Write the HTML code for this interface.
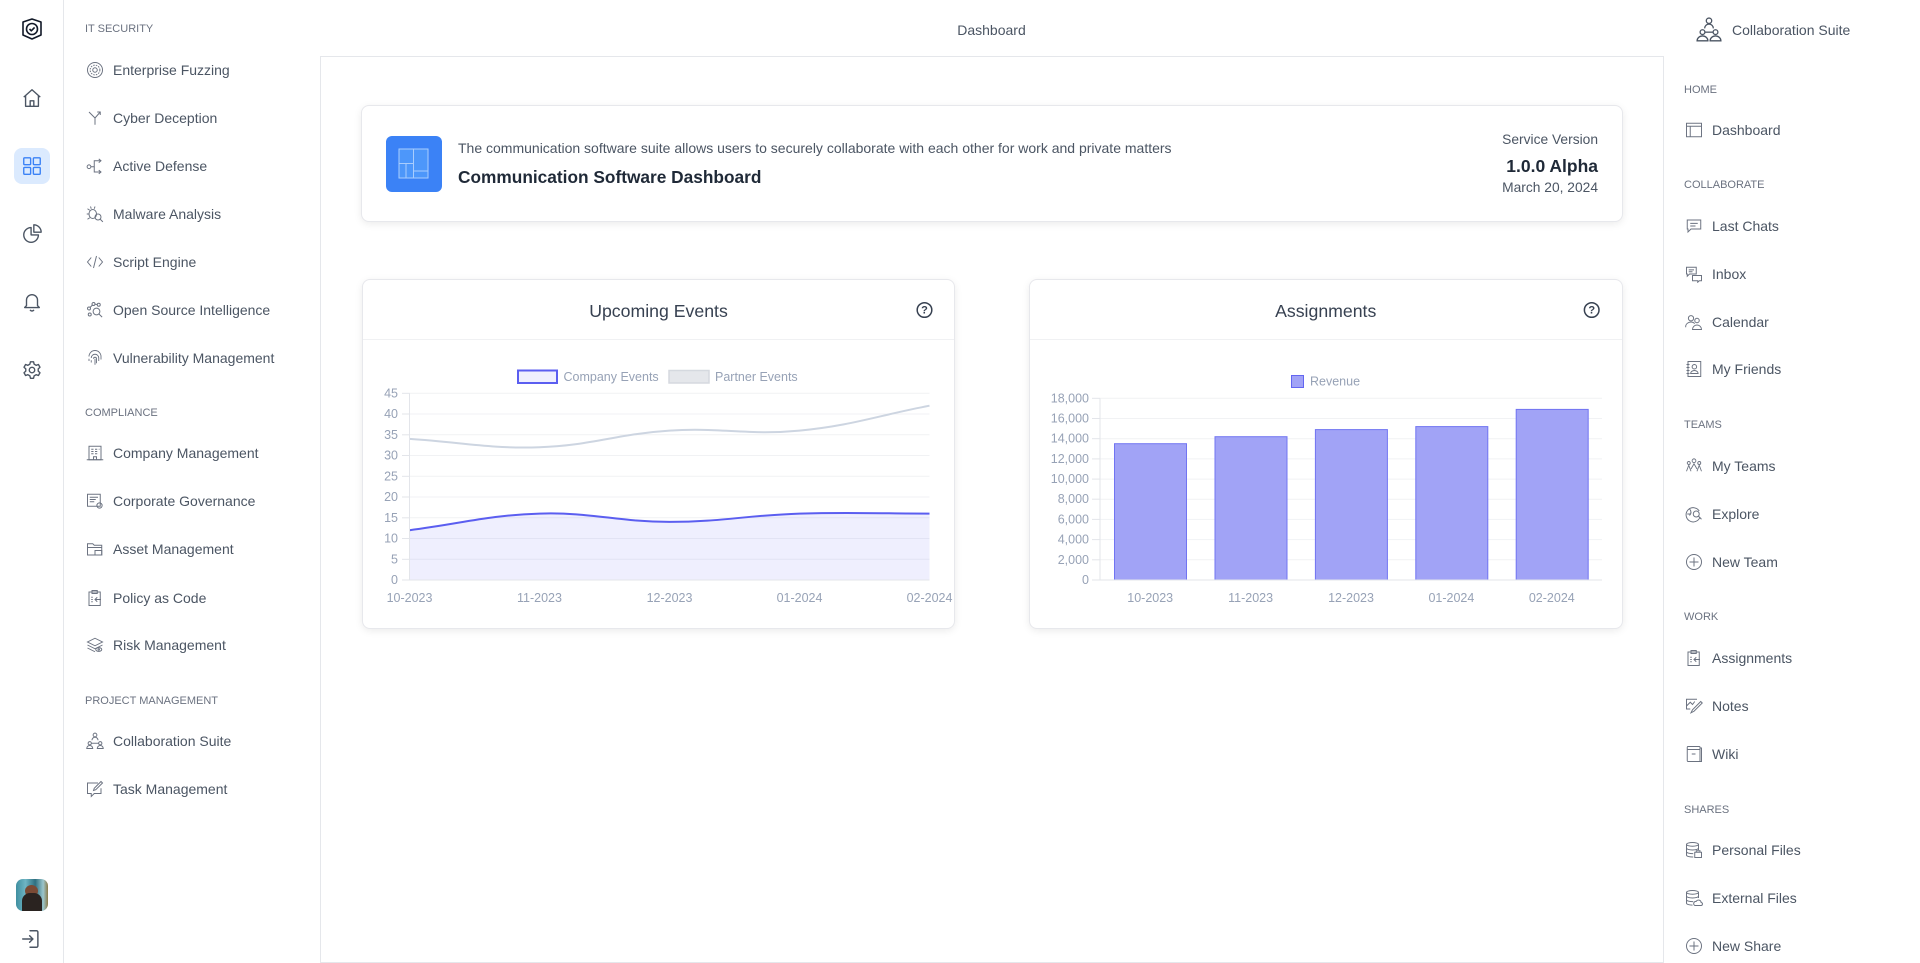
<!DOCTYPE html>
<html><head><meta charset="utf-8">
<style>
*{margin:0;padding:0;box-sizing:border-box}
html,body{width:1920px;height:963px;overflow:hidden;background:#fff;font-family:"Liberation Sans",sans-serif;color:#4b5563}
.a{position:absolute}
.h{position:absolute;font-size:11px;color:#6b7280;line-height:14px;height:14px;white-space:nowrap}
.it{position:absolute;font-size:14px;line-height:20px;height:20px;color:#4b5563;white-space:nowrap}
.ic{position:absolute;width:18px;height:18px}
.ic svg{width:18px;height:18px;display:block}
.card{position:absolute;background:#fff;border:1px solid #e7e8ec;border-radius:8px;box-shadow:0 2px 8px rgba(0,0,0,0.08)}
</style></head>
<body>

<!-- icon rail -->
<div class="a" style="left:0;top:0;width:64px;height:963px;border-right:1px solid #e5e7eb"></div>
<svg class="a" style="left:20px;top:17px" width="24" height="24" viewBox="0 0 24 24" fill="none" stroke="#111827" stroke-width="1.6" stroke-linejoin="round"><path d="M3 5 L12 2 L21 5 L21 18 L12 22 L3 18 Z"/><circle cx="12" cy="12" r="5.5"/><path d="M9.5 12 L11.3 13.8 L14.6 10.4"/></svg>
<svg class="a" style="left:21px;top:87px" width="22" height="22" viewBox="0 0 24 24" fill="none" stroke="#4b5563" stroke-width="1.5" stroke-linejoin="round"><path d="M3 11 L12 3 L21 11"/><path d="M5 9.5 V21 H19 V9.5"/><path d="M10 21 V15 H14 V21"/></svg>
<div class="a" style="left:14px;top:148px;width:36px;height:36px;border-radius:8px;background:#dbeafe"></div>
<svg class="a" style="left:21px;top:155px" width="22" height="22" viewBox="0 0 24 24" fill="none" stroke="#3b82f6" stroke-width="1.5"><rect x="3" y="3" width="7.5" height="7.5" rx="1"/><rect x="13.5" y="3" width="7.5" height="7.5" rx="1"/><rect x="3" y="13.5" width="7.5" height="7.5" rx="1"/><rect x="13.5" y="13.5" width="7.5" height="7.5" rx="1"/></svg>
<svg class="a" style="left:21px;top:223px" width="22" height="22" viewBox="0 0 24 24" fill="none" stroke="#4b5563" stroke-width="1.5" stroke-linejoin="round"><path d="M11 5 A8 8 0 1 0 19 13 H11 Z"/><path d="M14 2 A8 8 0 0 1 22 10 H14 Z"/></svg>
<svg class="a" style="left:21px;top:291px" width="22" height="22" viewBox="0 0 24 24" fill="none" stroke="#4b5563" stroke-width="1.5" stroke-linejoin="round"><path d="M6 16 V10 A6 6 0 0 1 18 10 V16 L20 18 H4 Z"/><path d="M10 20.5 A2.2 2.2 0 0 0 14 20.5"/></svg>
<svg class="a" style="left:21px;top:359px" width="22" height="22" viewBox="0 0 24 24" fill="none" stroke="#4b5563" stroke-width="1.5" stroke-linejoin="round"><path d="M10.3 3 H13.7 L14.3 5.6 L16.5 6.9 L19 6 L20.7 9 L18.8 10.8 V13.2 L20.7 15 L19 18 L16.5 17.1 L14.3 18.4 L13.7 21 H10.3 L9.7 18.4 L7.5 17.1 L5 18 L3.3 15 L5.2 13.2 V10.8 L3.3 9 L5 6 L7.5 6.9 L9.7 5.6 Z"/><circle cx="12" cy="12" r="3"/></svg>
<div class="a" style="left:16px;top:879px;width:32px;height:32px;border-radius:7px;overflow:hidden;background:linear-gradient(90deg,#3f8fa0 0%,#6fb5c4 30%,#2d6f80 60%,#9bc6cc 85%,#8a7b4a 100%)">
  <div class="a" style="left:9px;top:6px;width:13px;height:12px;border-radius:50%;background:#7a4a35"></div>
  <div class="a" style="left:6px;top:14px;width:20px;height:20px;border-radius:8px 8px 0 0;background:#2a2320"></div>
</div>
<svg class="a" style="left:20px;top:928px" width="22" height="22" viewBox="0 0 24 24" fill="none" stroke="#4b5563" stroke-width="1.6" stroke-linejoin="round" stroke-linecap="round"><path d="M11 3 H18 A1.5 1.5 0 0 1 19.5 4.5 V19.5 A1.5 1.5 0 0 1 18 21 H11"/><path d="M3 12 H14"/><path d="M10.5 8.5 L14 12 L10.5 15.5"/></svg>

<!-- left sidebar -->
<div class="h" style="left:85px;top:22px">IT SECURITY</div>
<div class="ic" style="left:86px;top:61px"><svg viewBox="0 0 24 24" fill="none" stroke="#6b7280" stroke-width="1.3"><circle cx="12" cy="12" r="10"/><circle cx="12" cy="12" r="6.5" stroke-dasharray="2 1.5"/><circle cx="12" cy="12" r="3"/></svg></div>
<div class="it" style="left:113px;top:60px">Enterprise Fuzzing</div>
<div class="ic" style="left:86px;top:109px"><svg viewBox="0 0 24 24" fill="none" stroke="#6b7280" stroke-width="1.3"><path d="M4 4 L12 12 V21"/><path d="M12 12 L19 4"/><path d="M15 4 H19 V8"/></svg></div>
<div class="it" style="left:113px;top:108px">Cyber Deception</div>
<div class="ic" style="left:86px;top:157px"><svg viewBox="0 0 24 24" fill="none" stroke="#6b7280" stroke-width="1.3"><circle cx="4" cy="13" r="2.5"/><path d="M6.5 13 H11 V5 H20"/><path d="M11 13 V20 H20"/><path d="M17 2.5 L20 5 L17 7.5"/><path d="M17 17.5 L20 20 L17 22.5"/></svg></div>
<div class="it" style="left:113px;top:156px">Active Defense</div>
<div class="ic" style="left:86px;top:205px"><svg viewBox="0 0 24 24" fill="none" stroke="#6b7280" stroke-width="1.3"><ellipse cx="9" cy="12" rx="5" ry="6"/><path d="M4 12 H1 M5 7 L2 5 M5 17 L2 19 M7 5 L6 2 M11 5 L12 2"/><circle cx="16" cy="16" r="4"/><path d="M19 19 L22.5 22.5"/></svg></div>
<div class="it" style="left:113px;top:204px">Malware Analysis</div>
<div class="ic" style="left:86px;top:253px"><svg viewBox="0 0 24 24" fill="none" stroke="#6b7280" stroke-width="1.3"><path d="M7 6 L2 12 L7 18"/><path d="M17 6 L22 12 L17 18"/><path d="M14 4 L10 20"/></svg></div>
<div class="it" style="left:113px;top:252px">Script Engine</div>
<div class="ic" style="left:86px;top:301px"><svg viewBox="0 0 24 24" fill="none" stroke="#6b7280" stroke-width="1.3"><circle cx="4" cy="10" r="2"/><circle cx="10" cy="4" r="2"/><circle cx="17" cy="5" r="2"/><circle cx="5" cy="18" r="2"/><path d="M5.5 8.5 L8.5 5.5 M12 4.3 L15 4.7"/><circle cx="14" cy="14" r="4.5"/><path d="M17.3 17.3 L21.5 21.5"/></svg></div>
<div class="it" style="left:113px;top:300px">Open Source Intelligence</div>
<div class="ic" style="left:86px;top:349px"><svg viewBox="0 0 24 24" fill="none" stroke="#6b7280" stroke-width="1.2"><path d="M4 10 A8 8 0 0 1 20 10 V14"/><path d="M7 12 A5 5 0 0 1 17 12 V16"/><path d="M10 13 A2 2 0 0 1 14 13 V19"/><path d="M12 13 V21 M7 15 V18 M4 13 V16"/></svg></div>
<div class="it" style="left:113px;top:348px">Vulnerability Management</div>

<div class="h" style="left:85px;top:406px">COMPLIANCE</div>
<div class="ic" style="left:86px;top:444px"><svg viewBox="0 0 24 24" fill="none" stroke="#6b7280" stroke-width="1.3"><rect x="4" y="3" width="16" height="18"/><path d="M1 21 H23"/><path d="M7 7 H10 M12 7 H15 M17 7 H18 M7 10 H10 M12 10 H15 M7 13 H10 M12 13 H15"/><path d="M10 21 V17 H14 V21"/></svg></div>
<div class="it" style="left:113px;top:443px">Company Management</div>
<div class="ic" style="left:86px;top:492px"><svg viewBox="0 0 24 24" fill="none" stroke="#6b7280" stroke-width="1.3"><rect x="2" y="3" width="17" height="16"/><path d="M5 7 H16 M5 10 H13 M5 13 H11"/><circle cx="18" cy="18" r="3.5"/></svg></div>
<div class="it" style="left:113px;top:491px">Corporate Governance</div>
<div class="ic" style="left:86px;top:540px"><svg viewBox="0 0 24 24" fill="none" stroke="#6b7280" stroke-width="1.3"><path d="M2 5 H9 L11 7 H21 V20 H2 Z"/><path d="M2 10 H21"/><rect x="12" y="14" width="9" height="6"/></svg></div>
<div class="it" style="left:113px;top:539px">Asset Management</div>
<div class="ic" style="left:86px;top:589px"><svg viewBox="0 0 24 24" fill="none" stroke="#6b7280" stroke-width="1.3"><rect x="4" y="4" width="15" height="18"/><rect x="8" y="2" width="7" height="4"/><path d="M7 11 H9 M7 14 H9 M7 17 H9"/><path d="M15 11 L12 14 L15 17 M12 14 H20"/></svg></div>
<div class="it" style="left:113px;top:588px">Policy as Code</div>
<div class="ic" style="left:86px;top:636px"><svg viewBox="0 0 24 24" fill="none" stroke="#6b7280" stroke-width="1.3"><path d="M12 3 L22 8 L12 13 L2 8 Z"/><path d="M2 12 L12 17 L22 12"/><path d="M2 16 L12 21"/><ellipse cx="17" cy="18" rx="4" ry="2.5"/><circle cx="17" cy="18" r="1"/></svg></div>
<div class="it" style="left:113px;top:635px">Risk Management</div>

<div class="h" style="left:85px;top:694px">PROJECT MANAGEMENT</div>
<div class="ic" style="left:86px;top:732px"><svg viewBox="0 0 24 24" fill="none" stroke="#6b7280" stroke-width="1.3"><circle cx="12" cy="4" r="2.5"/><path d="M8 11 A4 4 0 0 1 16 11"/><circle cx="5" cy="15" r="2.2"/><circle cx="19" cy="15" r="2.2"/><path d="M1 22 A4 4 0 0 1 9 22 Z M15 22 A4 4 0 0 1 23 22 Z"/><path d="M7 15 H17"/></svg></div>
<div class="it" style="left:113px;top:731px">Collaboration Suite</div>
<div class="ic" style="left:86px;top:780px"><svg viewBox="0 0 24 24" fill="none" stroke="#6b7280" stroke-width="1.3"><path d="M16 4 H2 V18 H7 V22 L11 18 H20 V11"/><path d="M20 2 L22 4 L13 13 L10 14 L11 11 Z"/></svg></div>
<div class="it" style="left:113px;top:779px">Task Management</div>

<!-- top header -->
<div class="it" style="left:320px;width:1343px;top:20px;text-align:center">Dashboard</div>
<svg class="a" style="left:1696px;top:17px" width="26" height="26" viewBox="0 0 24 24" fill="none" stroke="#4b5563" stroke-width="1.2"><circle cx="12" cy="3.5" r="2.5"/><path d="M8 10.5 A4 4 0 0 1 16 10.5"/><circle cx="6" cy="14" r="2.2"/><circle cx="18" cy="14" r="2.2"/><path d="M1 22 A5 4.5 0 0 1 11 22 Z M13 22 A5 4.5 0 0 1 23 22 Z"/><path d="M8.2 14 H15.8"/></svg>
<div class="it" style="left:1732px;top:20px">Collaboration Suite</div>

<!-- main panel -->
<div class="a" style="left:320px;top:56px;width:1344px;height:907px;border:1px solid #e5e7eb"></div>

<!-- header card -->
<div class="card" style="left:361px;top:105px;width:1262px;height:117px"></div>
<div class="a" style="left:386px;top:136px;width:56px;height:56px;border-radius:6px;background:#3b82f6"></div>
<svg class="a" style="left:386px;top:136px" width="56" height="56" viewBox="0 0 56 56"><rect x="13" y="13" width="29" height="29" fill="#4d97fa" stroke="#a9cdfd" stroke-width="1"/><path d="M13 27.5 H27.5 M27.5 13 V42 M27.5 35 H42 M20 27.5 V42" stroke="#a9cdfd" stroke-width="1" fill="none"/></svg>
<div class="a" style="left:458px;top:139px;font-size:14px;line-height:18px;color:#4b5563;white-space:nowrap">The communication software suite allows users to securely collaborate with each other for work and private matters</div>
<div class="a" style="left:458px;top:166px;font-size:17.3px;line-height:22px;font-weight:bold;color:#1f2937;white-space:nowrap">Communication Software Dashboard</div>
<div class="a" style="right:322px;top:131px;font-size:13.8px;line-height:18px;color:#4b5563;text-align:right;white-space:nowrap">Service Version</div>
<div class="a" style="right:322px;top:155px;font-size:17.5px;line-height:22px;font-weight:bold;color:#1f2937;text-align:right;white-space:nowrap">1.0.0 Alpha</div>
<div class="a" style="right:322px;top:179px;font-size:13.8px;line-height:18px;color:#4b5563;text-align:right;white-space:nowrap">March 20, 2024</div>

<!-- chart cards -->
<div class="card" style="left:362px;top:279px;width:593px;height:350px"></div>
<div class="card" style="left:1029px;top:279px;width:594px;height:350px"></div>

<svg class="a" style="left:0;top:0" width="1920" height="963" viewBox="0 0 1920 963" font-family="Liberation Sans, sans-serif">
  <!-- card headers -->
  <line x1="363" y1="339.5" x2="954" y2="339.5" stroke="#f0f1f3"/>
  <line x1="1030" y1="339.5" x2="1622" y2="339.5" stroke="#f0f1f3"/>
  <text x="658.5" y="311" text-anchor="middle" dominant-baseline="central" font-size="17.7" fill="#374151">Upcoming Events</text>
  <text x="1325.7" y="311" text-anchor="middle" dominant-baseline="central" font-size="17.7" fill="#374151">Assignments</text>
  <circle cx="924.5" cy="310" r="7.3" fill="none" stroke="#374151" stroke-width="1.5"/>
  <text x="924.5" y="310.5" text-anchor="middle" dominant-baseline="central" font-size="11" font-weight="bold" fill="#374151">?</text>
  <circle cx="1591.7" cy="310" r="7.3" fill="none" stroke="#374151" stroke-width="1.5"/>
  <text x="1591.7" y="310.5" text-anchor="middle" dominant-baseline="central" font-size="11" font-weight="bold" fill="#374151">?</text>

  <!-- LEFT LINE CHART -->
  <g stroke="#f1f2f4" stroke-width="1">
    <line x1="409.5" x2="929.5" y1="393.3" y2="393.3"/>
    <line x1="409.5" x2="929.5" y1="414" y2="414"/>
    <line x1="409.5" x2="929.5" y1="434.8" y2="434.8"/>
    <line x1="409.5" x2="929.5" y1="455.5" y2="455.5"/>
    <line x1="409.5" x2="929.5" y1="476.3" y2="476.3"/>
    <line x1="409.5" x2="929.5" y1="497" y2="497"/>
    <line x1="409.5" x2="929.5" y1="517.8" y2="517.8"/>
    <line x1="409.5" x2="929.5" y1="538.5" y2="538.5"/>
    <line x1="409.5" x2="929.5" y1="559.3" y2="559.3"/>
  </g>
  <g stroke="#e3e5ea" stroke-width="1">
    <line x1="402" x2="409.5" y1="393.3" y2="393.3"/>
    <line x1="402" x2="409.5" y1="414" y2="414"/>
    <line x1="402" x2="409.5" y1="434.8" y2="434.8"/>
    <line x1="402" x2="409.5" y1="455.5" y2="455.5"/>
    <line x1="402" x2="409.5" y1="476.3" y2="476.3"/>
    <line x1="402" x2="409.5" y1="497" y2="497"/>
    <line x1="402" x2="409.5" y1="517.8" y2="517.8"/>
    <line x1="402" x2="409.5" y1="538.5" y2="538.5"/>
    <line x1="402" x2="409.5" y1="559.3" y2="559.3"/>
    <line x1="402" x2="409.5" y1="580" y2="580"/>
  </g>
  <path d="M409.5,530.2 C461.5,523.56 487.34,515.27 539.5,513.6 C591.34,511.95 617.5,521.9 669.5,521.9 C721.5,521.9 747.45,515.26 799.5,513.6 C851.45,511.94 877.5,513.6 929.5,513.6 L929.5,580 L409.5,580 Z" fill="rgba(99,102,241,0.1)"/>
  <path d="M409.5,438.9 C461.5,442.22 487.66,448.86 539.5,447.2 C591.66,445.54 617.29,433.93 669.5,430.6 C721.29,427.29 747.97,435.54 799.5,430.6 C851.97,425.58 877.5,415.66 929.5,405.7" fill="none" stroke="#cdd5e1" stroke-width="2"/>
  <path d="M409.5,530.2 C461.5,523.56 487.34,515.27 539.5,513.6 C591.34,511.95 617.5,521.9 669.5,521.9 C721.5,521.9 747.45,515.26 799.5,513.6 C851.45,511.94 877.5,513.6 929.5,513.6" fill="none" stroke="#5b5ef0" stroke-width="2"/>
  <line x1="409.5" x2="409.5" y1="393.3" y2="580" stroke="#e3e5ea"/>
  <line x1="409.5" x2="929.5" y1="580" y2="580" stroke="#e3e5ea"/>
  <g font-size="12.5" fill="#97a2b6" text-anchor="end" dominant-baseline="central">
    <text x="398" y="393.3">45</text><text x="398" y="414">40</text><text x="398" y="434.8">35</text>
    <text x="398" y="455.5">30</text><text x="398" y="476.3">25</text><text x="398" y="497">20</text>
    <text x="398" y="517.8">15</text><text x="398" y="538.5">10</text><text x="398" y="559.3">5</text>
    <text x="398" y="580">0</text>
  </g>
  <g font-size="12.5" fill="#97a2b6" text-anchor="middle" dominant-baseline="central">
    <text x="409.5" y="598">10-2023</text><text x="539.5" y="598">11-2023</text><text x="669.5" y="598">12-2023</text>
    <text x="799.5" y="598">01-2024</text><text x="929.5" y="598">02-2024</text>
  </g>
  <!-- legend -->
  <rect x="518" y="370.5" width="39" height="12.5" fill="rgba(99,102,241,0.1)" stroke="#5b5ef0" stroke-width="2"/>
  <text x="563.5" y="377" font-size="12.5" fill="#97a2b6" dominant-baseline="central">Company Events</text>
  <rect x="669" y="370.5" width="40" height="12.5" fill="#e5e7eb" stroke="#d5d9df" stroke-width="1.5"/>
  <text x="715" y="377" font-size="12.5" fill="#97a2b6" dominant-baseline="central">Partner Events</text>

  <!-- RIGHT BAR CHART -->
  <g stroke="#f1f2f4" stroke-width="1">
    <line x1="1100" x2="1602" y1="398.3" y2="398.3"/>
    <line x1="1100" x2="1602" y1="418.5" y2="418.5"/>
    <line x1="1100" x2="1602" y1="438.7" y2="438.7"/>
    <line x1="1100" x2="1602" y1="458.9" y2="458.9"/>
    <line x1="1100" x2="1602" y1="479.1" y2="479.1"/>
    <line x1="1100" x2="1602" y1="499.2" y2="499.2"/>
    <line x1="1100" x2="1602" y1="519.4" y2="519.4"/>
    <line x1="1100" x2="1602" y1="539.6" y2="539.6"/>
    <line x1="1100" x2="1602" y1="559.8" y2="559.8"/>
  </g>
  <g stroke="#e3e5ea" stroke-width="1">
    <line x1="1092" x2="1100" y1="398.3" y2="398.3"/>
    <line x1="1092" x2="1100" y1="418.5" y2="418.5"/>
    <line x1="1092" x2="1100" y1="438.7" y2="438.7"/>
    <line x1="1092" x2="1100" y1="458.9" y2="458.9"/>
    <line x1="1092" x2="1100" y1="479.1" y2="479.1"/>
    <line x1="1092" x2="1100" y1="499.2" y2="499.2"/>
    <line x1="1092" x2="1100" y1="519.4" y2="519.4"/>
    <line x1="1092" x2="1100" y1="539.6" y2="539.6"/>
    <line x1="1092" x2="1100" y1="559.8" y2="559.8"/>
    <line x1="1092" x2="1100" y1="580" y2="580"/>
  </g>
  <g fill="#a1a3f6" stroke="#7174f2" stroke-width="1">
    <rect x="1114.5" y="443.7" width="72" height="136.3"/>
    <rect x="1215" y="436.7" width="72" height="143.3"/>
    <rect x="1315.4" y="429.6" width="72" height="150.4"/>
    <rect x="1415.8" y="426.6" width="72" height="153.4"/>
    <rect x="1516.2" y="409.4" width="72" height="170.6"/>
  </g>
  <line x1="1100" x2="1100" y1="398.3" y2="580" stroke="#e3e5ea"/>
  <line x1="1100" x2="1602" y1="580" y2="580" stroke="#e3e5ea"/>
  <g font-size="12.5" fill="#97a2b6" text-anchor="end" dominant-baseline="central">
    <text x="1089" y="398.3">18,000</text><text x="1089" y="418.5">16,000</text><text x="1089" y="438.7">14,000</text>
    <text x="1089" y="458.9">12,000</text><text x="1089" y="479.1">10,000</text><text x="1089" y="499.2">8,000</text>
    <text x="1089" y="519.4">6,000</text><text x="1089" y="539.6">4,000</text><text x="1089" y="559.8">2,000</text>
    <text x="1089" y="580">0</text>
  </g>
  <g font-size="12.5" fill="#97a2b6" text-anchor="middle" dominant-baseline="central">
    <text x="1150.2" y="598">10-2023</text><text x="1250.6" y="598">11-2023</text><text x="1351" y="598">12-2023</text>
    <text x="1451.4" y="598">01-2024</text><text x="1551.8" y="598">02-2024</text>
  </g>
  <rect x="1291.5" y="375.5" width="12" height="12" fill="#a1a3f6" stroke="#6366f1" stroke-width="1"/>
  <text x="1310" y="381.5" font-size="12.5" fill="#97a2b6" dominant-baseline="central">Revenue</text>
</svg>

<!-- right sidebar -->
<div class="h" style="left:1684px;top:83px">HOME</div>
<div class="ic" style="left:1685px;top:121px"><svg viewBox="0 0 24 24" fill="none" stroke="#6b7280" stroke-width="1.3"><rect x="2" y="3" width="20" height="18"/><path d="M2 7 H22 M7 7 V21"/></svg></div>
<div class="it" style="left:1712px;top:120px">Dashboard</div>

<div class="h" style="left:1684px;top:178px">COLLABORATE</div>
<div class="ic" style="left:1685px;top:217px"><svg viewBox="0 0 24 24" fill="none" stroke="#6b7280" stroke-width="1.3"><path d="M3 4 H21 V16 H8 L4 20 V16 H3 Z"/><path d="M7 8.5 H17 M7 12 H14"/></svg></div>
<div class="it" style="left:1712px;top:216px">Last Chats</div>
<div class="ic" style="left:1685px;top:265px"><svg viewBox="0 0 24 24" fill="none" stroke="#6b7280" stroke-width="1.3"><path d="M2 3 H15 V12 H6 L3 15 V12 H2 Z"/><path d="M5 6.5 H12 M5 9 H10"/><path d="M10 14 H22 V21 H19 L17 23 V21 H10 Z"/></svg></div>
<div class="it" style="left:1712px;top:264px">Inbox</div>
<div class="ic" style="left:1685px;top:313px"><svg viewBox="0 0 24 24" fill="none" stroke="#6b7280" stroke-width="1.3"><circle cx="8" cy="7" r="3.5"/><path d="M1 19 A7 6 0 0 1 13 14"/><circle cx="16" cy="10" r="3"/><path d="M10 22 A6 6 0 0 1 22 22 Z"/></svg></div>
<div class="it" style="left:1712px;top:312px">Calendar</div>
<div class="ic" style="left:1685px;top:360px"><svg viewBox="0 0 24 24" fill="none" stroke="#6b7280" stroke-width="1.3"><rect x="4" y="2" width="17" height="20"/><path d="M2 6 H6 M2 10 H6 M2 14 H6 M2 18 H6"/><circle cx="12.5" cy="9" r="3"/><path d="M7.5 18 A5 4 0 0 1 17.5 18 Z"/></svg></div>
<div class="it" style="left:1712px;top:359px">My Friends</div>

<div class="h" style="left:1684px;top:418px">TEAMS</div>
<div class="ic" style="left:1685px;top:457px"><svg viewBox="0 0 24 24" fill="none" stroke="#6b7280" stroke-width="1.2"><circle cx="12" cy="5" r="2.5"/><circle cx="5" cy="8" r="2"/><circle cx="19" cy="8" r="2"/><path d="M8 16 L12 9 L16 16 M2 19 L5 11 L8 19 M16 19 L19 11 L22 19"/></svg></div>
<div class="it" style="left:1712px;top:456px">My Teams</div>
<div class="ic" style="left:1685px;top:505px"><svg viewBox="0 0 24 24" fill="none" stroke="#6b7280" stroke-width="1.3"><path d="M19 8 A9.5 9.5 0 1 0 20 16"/><path d="M6 5 Q10 10 6 14 M3 12 H8"/><circle cx="15" cy="12" r="4"/><path d="M18 15 L22 19"/></svg></div>
<div class="it" style="left:1712px;top:504px">Explore</div>
<div class="ic" style="left:1685px;top:553px"><svg viewBox="0 0 24 24" fill="none" stroke="#6b7280" stroke-width="1.3"><circle cx="12" cy="12" r="10"/><path d="M12 6 V18 M6 12 H18"/></svg></div>
<div class="it" style="left:1712px;top:552px">New Team</div>

<div class="h" style="left:1684px;top:610px">WORK</div>
<div class="ic" style="left:1685px;top:649px"><svg viewBox="0 0 24 24" fill="none" stroke="#6b7280" stroke-width="1.3"><rect x="4" y="4" width="15" height="18"/><rect x="8" y="2" width="7" height="4"/><path d="M7 11 H9 M7 14 H9 M7 17 H9"/><path d="M15 11 L12 14 L15 17 M12 14 H20"/></svg></div>
<div class="it" style="left:1712px;top:648px">Assignments</div>
<div class="ic" style="left:1685px;top:697px"><svg viewBox="0 0 24 24" fill="none" stroke="#6b7280" stroke-width="1.3"><path d="M16 3 H2 V16 H7"/><path d="M2 12 L7 7 L10 10 L13 6"/><path d="M21 6 L23 8 L12 19 L8 21 L10 17 Z"/></svg></div>
<div class="it" style="left:1712px;top:696px">Notes</div>
<div class="ic" style="left:1685px;top:745px"><svg viewBox="0 0 24 24" fill="none" stroke="#6b7280" stroke-width="1.3"><rect x="3" y="2" width="17" height="20" rx="1"/><path d="M3 6 H20"/><path d="M9 12 H14"/><path d="M20 4 H22 V22 H6"/></svg></div>
<div class="it" style="left:1712px;top:744px">Wiki</div>

<div class="h" style="left:1684px;top:803px">SHARES</div>
<div class="ic" style="left:1685px;top:841px"><svg viewBox="0 0 24 24" fill="none" stroke="#6b7280" stroke-width="1.3"><ellipse cx="10" cy="4.5" rx="8" ry="2.5"/><path d="M2 4.5 V19 A8 2.5 0 0 0 11 21.3 M18 4.5 V12"/><path d="M2 9.5 A8 2.5 0 0 0 18 9.5 M2 14.5 A8 2.5 0 0 0 11 16.8"/><rect x="13" y="15" width="9" height="7"/><path d="M15 15 V13 H20 V15"/></svg></div>
<div class="it" style="left:1712px;top:840px">Personal Files</div>
<div class="ic" style="left:1685px;top:889px"><svg viewBox="0 0 24 24" fill="none" stroke="#6b7280" stroke-width="1.3"><ellipse cx="10" cy="4.5" rx="8" ry="2.5"/><path d="M2 4.5 V19 A8 2.5 0 0 0 10 21.5 M18 4.5 V12"/><path d="M2 9.5 A8 2.5 0 0 0 18 9.5 M2 14.5 A8 2.5 0 0 0 11 16.8"/><path d="M13 22 A3 3 0 0 1 15 16.5 A3.5 3.5 0 0 1 21.5 18 A2 2 0 0 1 21 22 Z"/></svg></div>
<div class="it" style="left:1712px;top:888px">External Files</div>
<div class="ic" style="left:1685px;top:937px"><svg viewBox="0 0 24 24" fill="none" stroke="#6b7280" stroke-width="1.3"><circle cx="12" cy="12" r="10"/><path d="M12 6 V18 M6 12 H18"/></svg></div>
<div class="it" style="left:1712px;top:936px">New Share</div>

</body></html>
